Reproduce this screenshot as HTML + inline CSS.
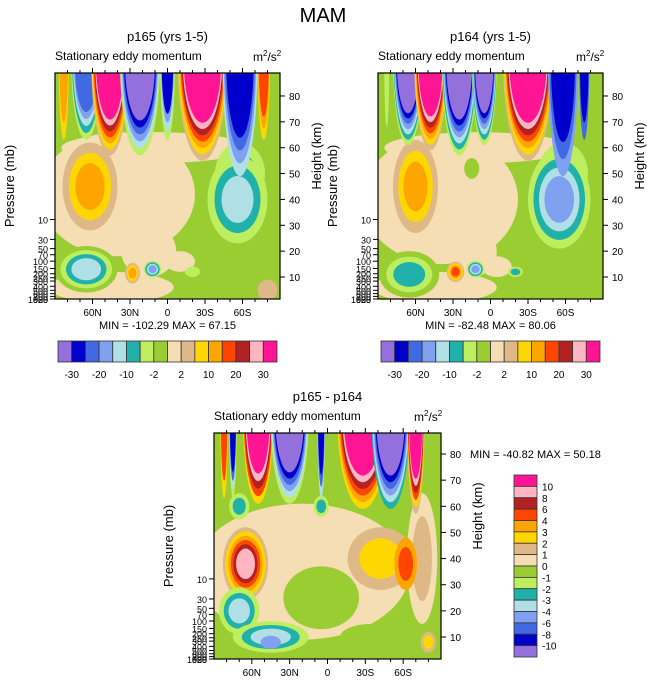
<!DOCTYPE html>
<html><head><meta charset="utf-8"><style>
body{margin:0;background:#fff;width:647px;height:683px;overflow:hidden;font-family:"Liberation Sans",sans-serif}
svg text{font-family:"Liberation Sans",sans-serif}
</style></head><body>
<svg id="fig" width="647" height="683" xmlns="http://www.w3.org/2000/svg">
<text x="323" y="22" font-size="20" text-anchor="middle">MAM</text>
</svg>
<script>
const palette=['#9370db','#0000cd','#4169e1','#80a0f0','#b0e0e6','#20b2aa','#bdee5f','#9acd32','#f5deb3','#deb887','#ffd700','#ffa500','#ff4500','#b22222','#ffb6c1','#ff1493'];
const topBarLabels=['-30','-20','-10','-2','2','10','20','30'];
const diffBarLabels=['10','8','6','4','3','2','1','0','-1','-2','-3','-4','-6','-8','-10'];
const latTicks=[60,30,0,-30,-60];
const latTickLabels=['60N','30N','0','30S','60S'];
const heightTicks=[10,20,30,40,50,60,70,80];
const pressureTicks=[10,30,50,70,100,150,200,250,300,400,500,600,700,850,925,1000];
// blobs: [lat, z(km), rLat, rZ, levels outer->inner]
const p165Blobs=[[40,42,62,24,[8]],[10,60,75,6,[8]],[45,6,50,6,[8]],[15,20,22,10,[8]],[-10,16,12,4,[8]],
 [65,13,25,9,[7,6,5,4]],[62,45,22,17,[9,10,11]],[-58,50,20,12,[6,5]],[-56,40,24,17,[6,5,4]],
 [28,11.5,6,4,[9,10,11]],[12,13,7,3.2,[6,5,4,3]],[-20,12,6,2,[6]],[-80,5,8,4,[9]]];
const p165Fingers=[[83,4,30,[10,11]],[65,12,30,[6,5,4,3,2]],[46,15,36,[9,10,11,12,13,14,15]],
 [22,16,36,[6,4,3,2,1,0]],[0,6,30,[6,4,3,1]],[-28,20,38,[9,10,11,12,13,14,15]],
 [-58,14,44,[4,3,2,1]],[-77,5,30,[10,11,12]]];
const p164Blobs=[[40,40,62,25,[8]],[10,60,75,6,[8]],[45,6,50,6,[8]],[15,20,20,10,[8]],[-5,14,12,4,[8]],
 [65,11,24,9,[7,6,5]],[60,45,18,18,[9,10,11]],[15,52,6,4,[7]],[-58,50,20,12,[6,5]],[-55,40,25,19,[6,5,4,3]],
 [28,12,7,4,[9,10,11,12]],[12,13,7,3.2,[6,5,4,3]],[-20,12,6,2,[6,5]]];
const p164Fingers=[[83,2,25,[6]],[66,12,32,[6,5,4,3,2,1,0]],[48,13,34,[9,10,11,12,13,14,15]],
 [25,14,36,[6,5,4,3,2,1,0]],[5,10,32,[6,5,4,3,2,1,0]],[-30,20,38,[9,10,11,12,13,14,15]],
 [-58,12,44,[3,2,1]],[-75,4,30,[2,1]]];
const diffBlobs=[[20,35,85,26,[8]],[5,25,30,12,[7]],[-35,10,25,5,[7]],[-75,40,12,25,[8,9]],
 [65,38,18,14,[9,10,11,12,13,14]],[-42,40,26,12,[9,10]],[-62,38,9,10,[11,12]],
 [70,20,16,9,[6,5,4]],[45,10,30,6,[6,5,4]],[45,8,8,2.5,[3]],[70,60,8,5,[6,5]],[5,60,6,4,[6,5]],[-80,8,6,4,[9,10]]];
const diffFingers=[[82,3,30,[10,12]],[75,3,30,[6,4,2,1]],[55,12,32,[10,12,13,14,15]],
 [30,15,32,[6,4,3,2,1,0]],[5,3,30,[4,2,1]],[-28,20,34,[10,11,12,13,14,15]],
 [-50,15,34,[5,4,3,2,1,0]],[-70,7,36,[9,10,12,13,14,15]]];

const svg=document.getElementById('fig');const NS='http://www.w3.org/2000/svg';
function mk(tag,attrs,parent){const e=document.createElementNS(NS,tag);for(const k in attrs)e.setAttribute(k,attrs[k]);(parent||svg).appendChild(e);return e;}
function txt(x,y,s,size,anchor,parent){const t=mk('text',{x:x,y:y,'font-size':size,'text-anchor':anchor||'start'},parent);t.textContent=s;return t;}

function panel(id,x0,top,w,h,y10,kpx,blobs,fingers,title,minmax){
 const X=lat=>x0+(90-lat)*w/180;
 const Y=z=>y10+(10-z)*kpx;
 const g=mk('g',{});
 
 
 const cp=mk('clipPath',{id:id+'clip'},g);mk('rect',{x:x0,y:top,width:w,height:h},cp);
 const plot=mk('g',{'clip-path':'url(#'+id+'clip)'},g);
 
 
 mk('rect',{x:x0,y:top,width:w,height:h,fill:palette[7]},plot);
 blobs.forEach(b=>{const n=b[4].length;b[4].forEach((c,k)=>{const s=1-0.7*k/n;
  const e=mk('ellipse',{cx:X(b[0]),cy:Y(b[1]),rx:b[2]*w/180*s,ry:b[3]*kpx*s,fill:palette[c]},plot);
  
  });});
 fingers.forEach(f=>{const n=f[3].length;f[3].forEach((c,k)=>{
  const rx=f[1]*w/180*(1-0.3*k/n),ry=f[2]*kpx*(1-0.45*k/n);
  const e=mk('ellipse',{cx:X(f[0]),cy:Y(93),rx:rx,ry:ry,fill:palette[c]},plot);
  
  });});
 mk('rect',{x:x0,y:top,width:w,height:h,fill:'none',stroke:'#000','stroke-width':1.2},g);
 for(let lat=80;lat>=-80;lat-=10){const major=latTicks.includes(lat);
  mk('line',{x1:X(lat),x2:X(lat),y1:top+h,y2:top+h+(major?5:3),stroke:'#000'},g);
  mk('line',{x1:X(lat),x2:X(lat),y1:top,y2:top-(major?5:3),stroke:'#000'},g);}
 latTicks.forEach((l,i)=>{const t=txt(X(l),top+h+17,latTickLabels[i],10,'middle',g);
  });
 heightTicks.forEach(z=>{mk('line',{x1:x0+w,x2:x0+w+5,y1:Y(z),y2:Y(z),stroke:'#000'},g);
  const t=txt(x0+w+9,Y(z)+4,String(z),10,'start',g);
  });
 pressureTicks.forEach(p=>{const z=7*Math.log(1000/p);let y=Y(z);if(y>top+h)y=top+h;
  mk('line',{x1:x0-5,x2:x0,y1:y,y2:y,stroke:'#000'},g);
  const t=txt(x0-7,y+4,String(p),9,'end',g);
  });
 const tt=txt(x0+w/2,top-32,title,13,'middle',g);
 const st=txt(x0,top-13,'Stationary eddy momentum',12,'start',g);
 const un=mk('text',{x:x0+w-27,y:top-12,'font-size':12},g);un.innerHTML='m<tspan dy="-5" font-size="8">2</tspan><tspan dy="5">/s</tspan><tspan dy="-5" font-size="8">2</tspan>';
 
 const yl=txt(0,0,'Pressure (mb)',13,'middle',g);yl.setAttribute('transform','translate('+(x0-41)+','+(top+h/2)+') rotate(-90)');
 
 const hl=txt(0,0,'Height (km)',13,'middle',g);hl.setAttribute('transform','translate('+(x0+w+41)+','+(top+h/2-30)+') rotate(-90)');
 
 if(minmax){const m=txt(x0+w/2,top+h+30,minmax,11,'middle',g);}
}
panel('p165',55,73,225,226,277,2.586,p165Blobs,p165Fingers,'p165 (yrs 1-5)','MIN = -102.29  MAX =  67.15');
panel('p164',378,73,225,226,277,2.586,p164Blobs,p164Fingers,'p164 (yrs 1-5)','MIN = -82.48  MAX =  80.06');
panel('diff',214,433,227,226,637,2.614,diffBlobs,diffFingers,'p165 - p164',null);
const mm=txt(470,458,'MIN = -40.82  MAX =  50.18',11,'start');


function hbar(x0,id){const bw=219/16;
 palette.forEach((c,i)=>{const r=mk('rect',{x:x0+i*bw,y:341,width:bw,height:21,fill:c,stroke:'#333','stroke-width':0.8});
  });
 topBarLabels.forEach((l,i)=>{const t=txt(x0+(1+2*i)*bw,378,l,10,'middle');
  });}
hbar(58,'p165');hbar(381,'p164');
const vpal=palette.slice().reverse();const bh=182/16;
vpal.forEach((c,i)=>{const r=mk('rect',{x:514,y:475+i*bh,width:23,height:bh,fill:c,stroke:'#333','stroke-width':0.8});
 });
diffBarLabels.forEach((l,i)=>{const t=txt(542,475+(i+1)*bh+4,l,10,'start');
 });
</script>
</body></html>
